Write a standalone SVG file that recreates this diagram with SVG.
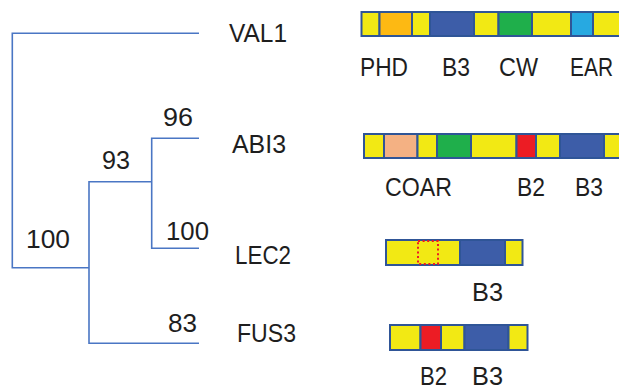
<svg xmlns="http://www.w3.org/2000/svg" width="619" height="389" viewBox="0 0 619 389">
  <style>
    text { font-family: "Liberation Sans", Arial, sans-serif; font-size: 26px; fill: #1e1e1e; }
    .branch { fill: none; stroke: #4A76C4; stroke-width: 1.6; }
    .seg { stroke: #2F5597; stroke-width: 2; }
    .y { fill: #F2E914; }
    .b3 { fill: #3D5DA8; }
    .or { fill: #FDB913; }
    .gr { fill: #1FAF4B; }
    .lb { fill: #27A9E1; }
    .pe { fill: #F4B183; }
    .rd { fill: #EC1C24; }
  </style>
  <rect width="619" height="389" fill="#ffffff"/>

  <!-- tree branches -->
  <g id="connectors">
    <path class="branch" d="M199,33.3 H12.3 V267.7 H89"/>
    <path class="branch" d="M199,343.3 H89 V181.7 H151.7"/>
    <path class="branch" d="M199,138.3 H151.7 V248.3 H199"/>
  </g>

  <!-- bootstrap support values -->
  <g id="support">
    <text x="26" y="248" textLength="44" lengthAdjust="spacingAndGlyphs">100</text>
    <text x="102" y="169" textLength="28" lengthAdjust="spacingAndGlyphs">93</text>
    <text x="163" y="126" textLength="30" lengthAdjust="spacingAndGlyphs">96</text>
    <text x="166" y="240" textLength="43" lengthAdjust="spacingAndGlyphs">100</text>
    <text x="168" y="332" textLength="29" lengthAdjust="spacingAndGlyphs">83</text>
  </g>

  <!-- VAL1 -->
  <g id="val1">
    <text x="229" y="42" textLength="58" lengthAdjust="spacingAndGlyphs">VAL1</text>
    <rect class="seg y" x="361.5" y="12" width="18" height="24"/>
    <rect class="seg or" x="379.5" y="12" width="32.5" height="24"/>
    <rect class="seg y" x="412" y="12" width="18" height="24"/>
    <rect class="seg b3" x="430" y="12" width="44" height="24"/>
    <rect class="seg y" x="474" y="12" width="24.5" height="24"/>
    <rect class="seg gr" x="498.5" y="12" width="33.5" height="24"/>
    <rect class="seg y" x="532" y="12" width="39" height="24"/>
    <rect class="seg lb" x="571" y="12" width="22" height="24"/>
    <rect class="seg y" x="593" y="12" width="37" height="24"/>
    <text x="360" y="76" textLength="48" lengthAdjust="spacingAndGlyphs">PHD</text>
    <text x="442" y="76" textLength="28" lengthAdjust="spacingAndGlyphs">B3</text>
    <text x="499" y="76" textLength="39" lengthAdjust="spacingAndGlyphs">CW</text>
    <text x="570" y="76" textLength="43" lengthAdjust="spacingAndGlyphs">EAR</text>
  </g>

  <!-- ABI3 -->
  <g id="abi3">
    <text x="232" y="153" textLength="54" lengthAdjust="spacingAndGlyphs">ABI3</text>
    <rect class="seg y" x="364" y="134" width="20" height="24"/>
    <rect class="seg pe" x="384" y="134" width="33.5" height="24"/>
    <rect class="seg y" x="417.5" y="134" width="19.5" height="24"/>
    <rect class="seg gr" x="437" y="134" width="34" height="24"/>
    <rect class="seg y" x="471" y="134" width="45.5" height="24"/>
    <rect class="seg rd" x="516.5" y="134" width="19.5" height="24"/>
    <rect class="seg y" x="536" y="134" width="24" height="24"/>
    <rect class="seg b3" x="560" y="134" width="44" height="24"/>
    <rect class="seg y" x="604" y="134" width="26" height="24"/>
    <text x="385" y="196" textLength="67" lengthAdjust="spacingAndGlyphs">COAR</text>
    <text x="517" y="196" textLength="28" lengthAdjust="spacingAndGlyphs">B2</text>
    <text x="575" y="196" textLength="28" lengthAdjust="spacingAndGlyphs">B3</text>
  </g>

  <!-- LEC2 -->
  <g id="lec2">
    <text x="235" y="264" textLength="56" lengthAdjust="spacingAndGlyphs">LEC2</text>
    <rect class="seg y" x="386" y="240" width="74" height="25"/>
    <rect class="seg b3" x="460" y="240" width="45" height="25"/>
    <rect class="seg y" x="505" y="240" width="17.5" height="25"/>
    <rect x="418" y="241" width="20" height="23" fill="none" stroke="#EC1C24" stroke-width="2" stroke-dasharray="2 2.6"/>
    <text x="472" y="301" textLength="31" lengthAdjust="spacingAndGlyphs">B3</text>
  </g>

  <!-- FUS3 -->
  <g id="fus3">
    <text x="237" y="342" textLength="59" lengthAdjust="spacingAndGlyphs">FUS3</text>
    <rect class="seg y" x="390" y="325" width="30.5" height="25"/>
    <rect class="seg rd" x="420.5" y="325" width="20.5" height="25"/>
    <rect class="seg y" x="441" y="325" width="23.5" height="25"/>
    <rect class="seg b3" x="464.5" y="325" width="44" height="25"/>
    <rect class="seg y" x="508.5" y="325" width="19" height="25"/>
    <text x="420" y="385" textLength="27" lengthAdjust="spacingAndGlyphs">B2</text>
    <text x="472" y="385" textLength="31" lengthAdjust="spacingAndGlyphs">B3</text>
  </g>
</svg>
